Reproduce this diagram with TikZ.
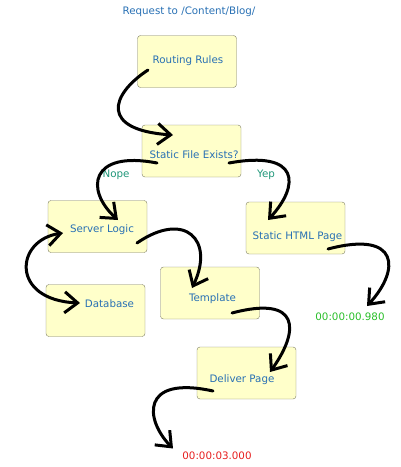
\documentclass[tikz,border=0pt]{standalone}
\usepackage{fontspec}
\setmainfont{DejaVu Sans}
\usetikzlibrary{arrows.meta}
\definecolor{boxfill}{RGB}{255,255,202}
\definecolor{boxline}{RGB}{125,125,100}
\definecolor{txtblue}{RGB}{40,112,180}
\definecolor{txtteal}{RGB}{30,150,120}
\definecolor{txtgreen}{RGB}{40,190,40}
\definecolor{txtred}{RGB}{230,30,30}

\begin{document}
\begin{tikzpicture}[x=1pt, y=-1pt, >={Straight Barb[length=13pt,width=21pt]},
	stage/.style={rectangle, rounded corners=3pt, draw=boxline, fill=boxfill, minimum width=99pt, minimum height=52pt},
	caption/.style={text=txtblue, font=\fontsize{10.3}{12}\selectfont},
	answer/.style={text=txtteal, font=\fontsize{10.3}{12}\selectfont},
	stroke/.style={->, line width=3pt, line cap=round, line join=round}]
	\useasboundingbox (0,0) rectangle (400,467);
	\node [stage] (rr) at (187,61.5) {};
	\node [stage] (sfe) at (191.5,151) {};
	\node [stage] (sl) at (97.5,226.5) {};
	\node [stage] (shp) at (295.5,228) {};
	\node [stage] (db) at (95.5,310.5) {};
	\node [stage] (tpl) at (210,293) {};
	\node [stage] (dp) at (246.5,373) {};
	\node [caption] (req) at (189,12) {Request to /Content/Blog/};
	\node [caption] (rrtext) at (188,61) {Routing Rules};
	\node [caption] (sfetext) at (194,155) {Static File Exists?};
	\node [caption] (sltext) at (102,230) {Server Logic};
	\node [caption] (shptext) at (297.5,237) {Static HTML Page};
	\node [caption] (dbtext) at (109.5,304) {Database};
	\node [caption] (tpltext) at (212.5,299) {Template};
	\node [caption] (dptext) at (242,380) {Deliver Page};
	\node [answer] (nope) at (116,175) {Nope};
	\node [answer] (yep) at (266,175) {Yep};
	\node [caption, text=txtgreen] (t980) at (350,317) {00:00:00.980};
	\node [caption, text=txtred] (t3000) at (217,455.5) {00:00:03.000};
	\draw [stroke] ([shift={(-39,8.5)}]rr.center) .. controls (110,95) and (100,130) .. ([shift={(-18.5,-16)}]sfe.center);
	\draw [stroke] ([shift={(-34.5,12)}]sfe.center) .. controls (90,150) and (85,190) .. ([shift={(20.5,-6.5)}]sl.center);
	\draw [stroke] ([shift={(37.5,12)}]sfe.center) .. controls (300,150) and (300,185) .. ([shift={(-27.5,-8)}]shp.center);
	\draw [stroke, <->] ([shift={(-34.5,6.5)}]sl.center) .. controls (15,240) and (10,300) .. ([shift={(-15.5,-7.5)}]db.center);
	\draw [stroke] ([shift={(39.5,16.5)}]sl.center) .. controls (185,210) and (215,240) .. ([shift={(-18,-5)}]tpl.center);
	\draw [stroke] ([shift={(32.5,21)}]shp.center) .. controls (400,230) and (400,270) .. ([shift={(17,-11)}]t980.center);
	\draw [stroke] ([shift={(22,20)}]tpl.center) .. controls (300,295) and (300,330) .. ([shift={(23.5,-1)}]dp.center);
	\draw [stroke] ([shift={(-33.5,18)}]dp.center) .. controls (140,375) and (145,420) .. ([shift={(-44,-7)}]t3000.center);
\end{tikzpicture}
\end{document}
